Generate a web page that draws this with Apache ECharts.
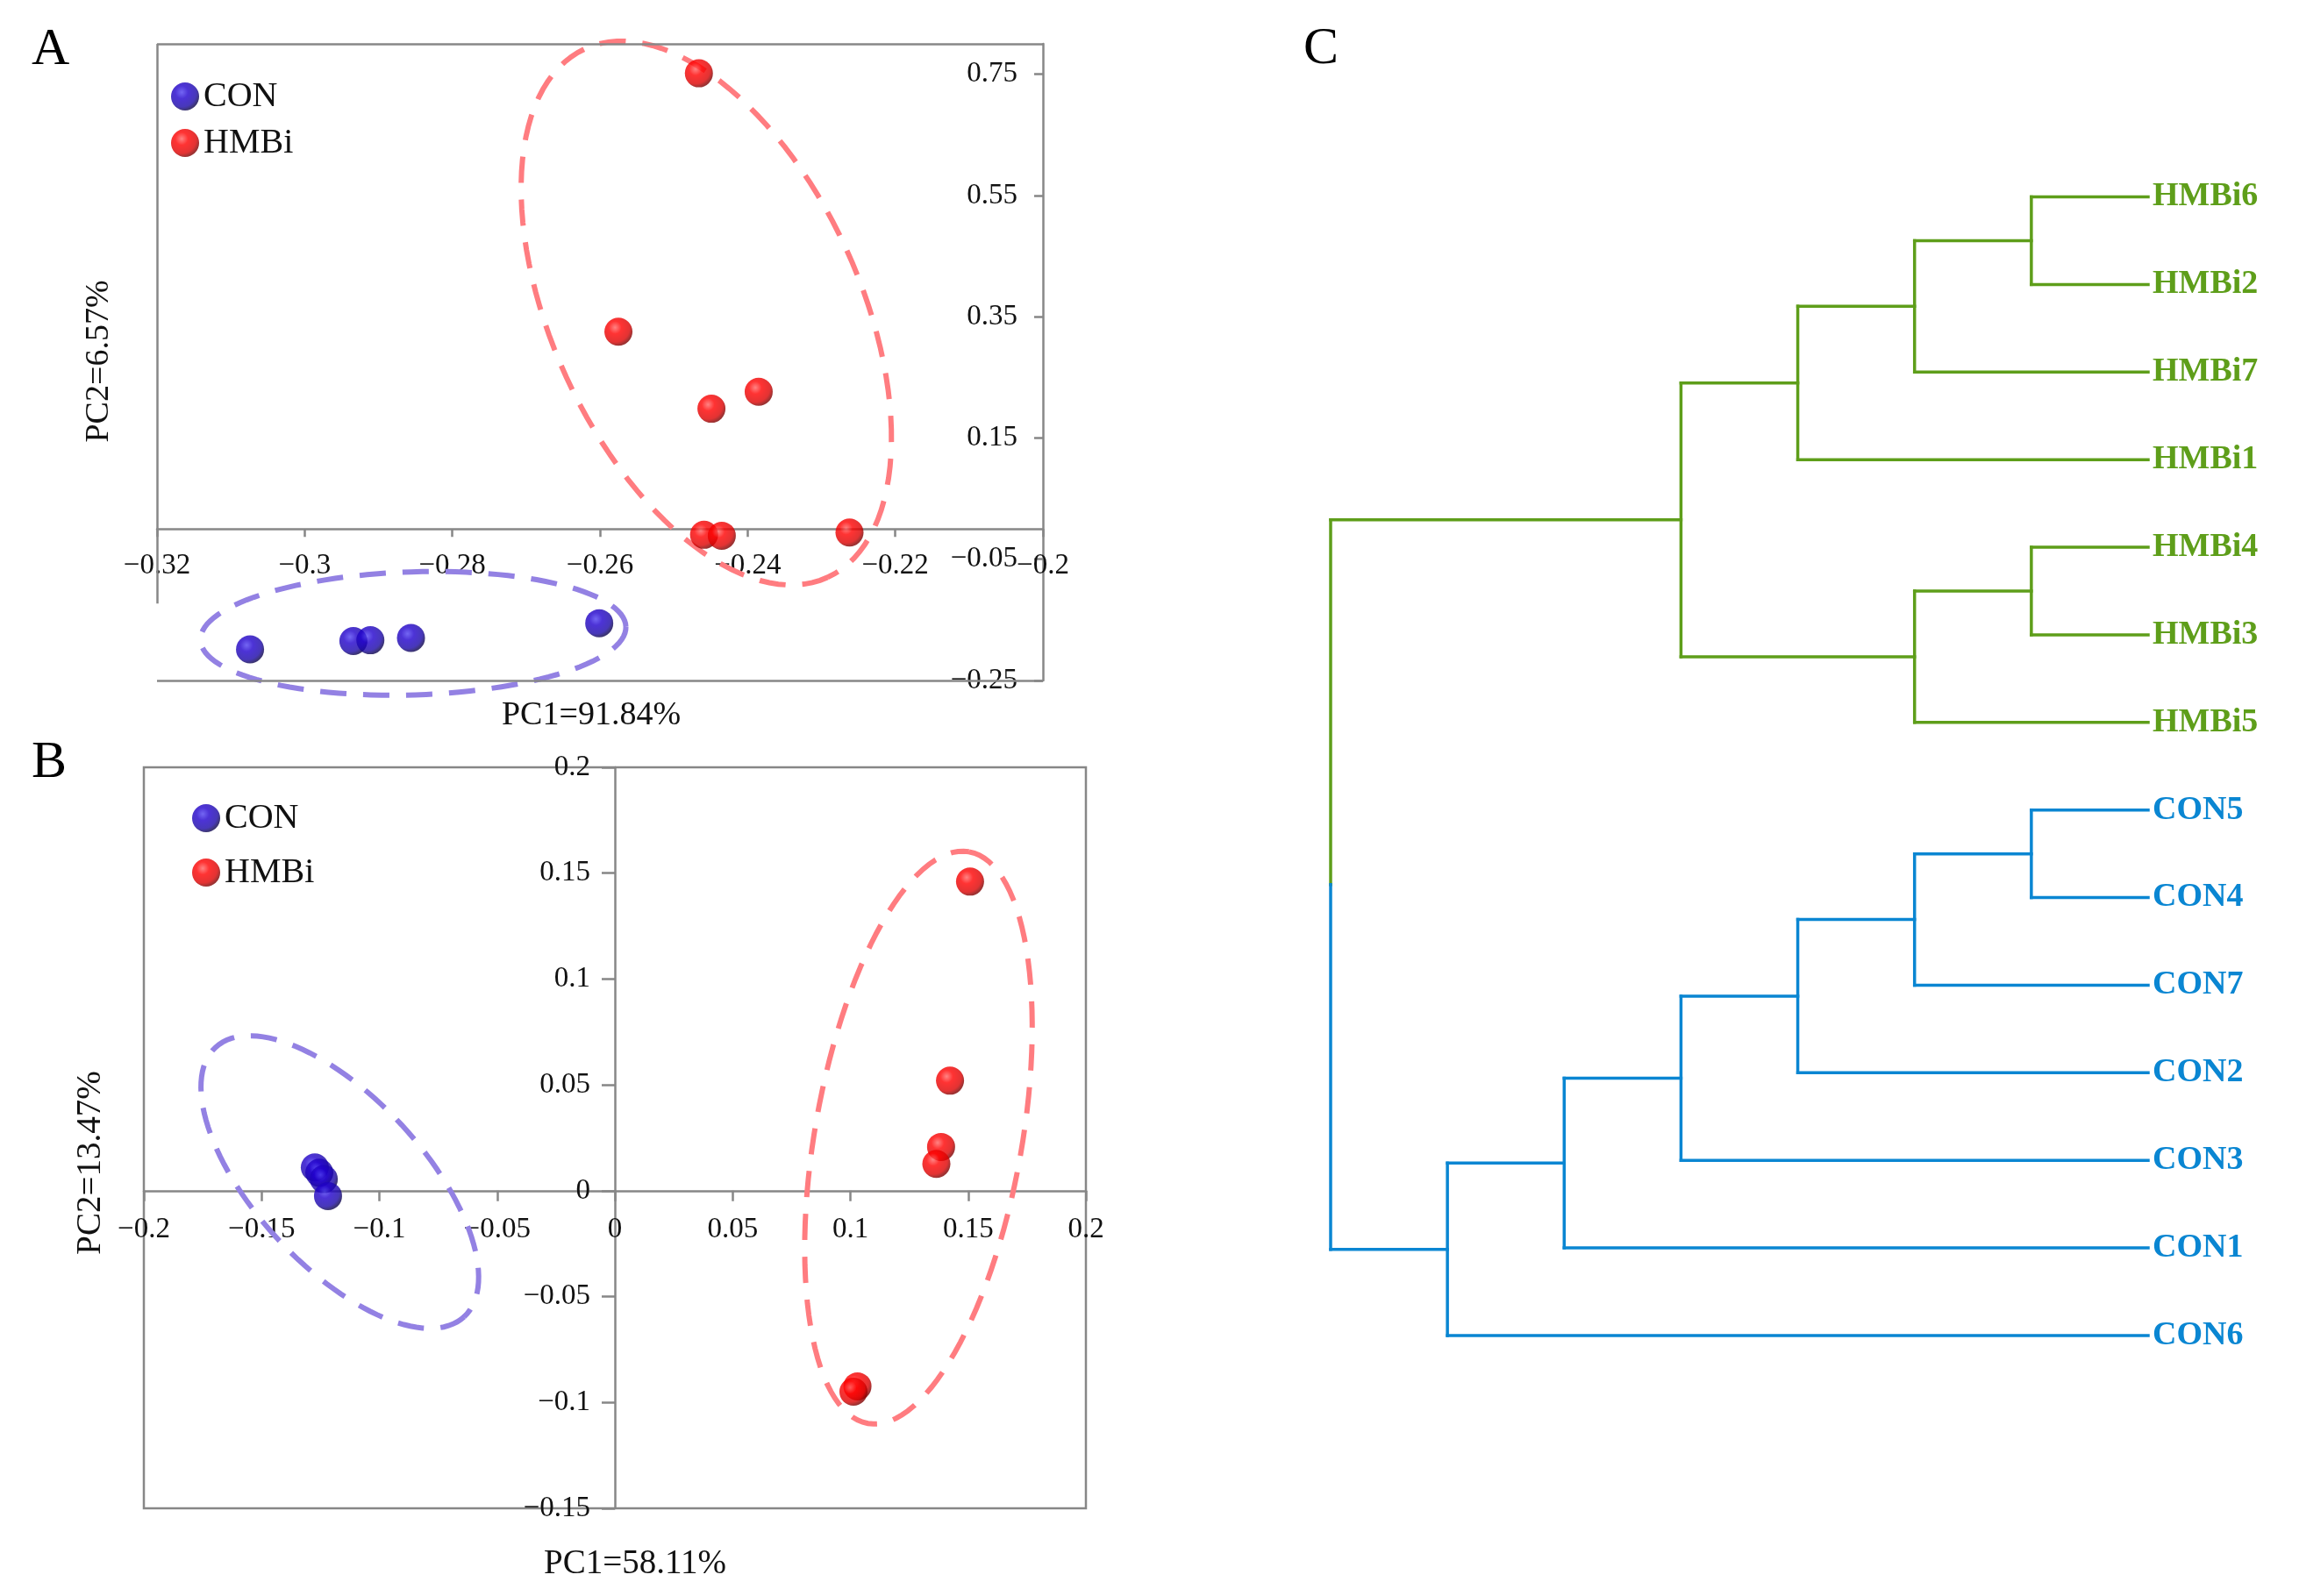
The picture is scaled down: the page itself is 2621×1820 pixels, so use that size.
<!DOCTYPE html>
<html>
<head>
<meta charset="utf-8">
<style>
html,body{margin:0;padding:0;background:#fff;}
#chart{width:2621px;height:1820px;}
</style>
<script src="https://cdn.jsdelivr.net/npm/echarts@6/dist/echarts.min.js"></script>
</head>
<body>
<div id="chart"></div>
<script>
// ---------- data ----------
const groups = ['CON', 'HMBi'];
// Panel A (PCoA) points [PC1, PC2]
const pcaA_CON  = [[-0.3074,-0.1987],[-0.2934,-0.1850],[-0.2911,-0.1836],[-0.2856,-0.1798],[-0.2601,-0.1555]];
const pcaA_HMBi = [[-0.2466,0.7514],[-0.2575,0.3252],[-0.2385,0.2261],[-0.2449,0.1982],[-0.2459,-0.0097],[-0.2435,-0.0112],[-0.2262,-0.0059]];
// Panel B (PCA) points
const pcaB_CON  = [[-0.1274,0.0110],[-0.1255,0.0085],[-0.1236,0.0055],[-0.1218,-0.0025]];
const pcaB_HMBi = [[0.1508,0.1460],[0.1423,0.0520],[0.1385,0.0207],[0.1365,0.0127],[0.1030,-0.0924],[0.1013,-0.0949]];
// Confidence ellipses: [centerX, centerY, axis1X, axis1Y, axis2X, axis2Y] in data units
const ellA_CON  = [-0.2853,-0.1723, 0.02881, 0.01106, 0.000264,-0.1014];
const ellA_HMBi = [-0.2456, 0.3560, 0.01642,-0.4359, -0.01896,-0.1056];
const ellB_CON  = [-0.1168, 0.0041, 0.05277,-0.06363,-0.02629,-0.02697];
const ellB_HMBi = [ 0.1289, 0.0251, 0.02145, 0.1350,  0.04328,-0.00849];
// Tick values
const ticksA_x = [-0.32,-0.3,-0.28,-0.26,-0.24,-0.22,-0.2];
const ticksA_y = [-0.25,-0.05,0.15,0.35,0.55,0.75];
const topA_y = 0.8;
const ticksB_x = [-0.2,-0.15,-0.1,-0.05,0,0.05,0.1,0.15,0.2];
const ticksB_y = [-0.15,-0.1,-0.05,0,0.05,0.1,0.15,0.2];
// Axis titles
const titlesA = ['PC1=91.84%','PC2=6.57%'];
const titlesB = ['PC1=58.11%','PC2=13.47%'];
// Panel C dendrogram
const leafNames = ['HMBi6','HMBi2','HMBi7','HMBi1','HMBi4','HMBi3','HMBi5','CON5','CON4','CON7','CON2','CON3','CON1','CON6'];
// merges: [childA, childB, height]; leaves are 0..13, new nodes 14..
const merges = [
  [0,1,1],[14,2,2],[15,3,3],
  [4,5,1],[17,6,2],
  [16,18,4],
  [7,8,1],[20,9,2],[21,10,3],[22,11,4],[23,12,5],[24,13,6],
  [19,25,7]
];

// ---------- layout / styles ----------
const FONT = "'Liberation Serif','Times New Roman',serif";
const GREEN = '#5E9E1A', BLUE = '#0A86D2';
const AXIS = '#878787';
const RED_E = '#FF7C80', BLUE_E = '#9381E3';
const redBall = {type:'radial',x:0.38,y:0.35,r:0.65,colorStops:[
  {offset:0,color:'#ff6464'},{offset:0.35,color:'#ff0000'},{offset:0.8,color:'#dc0000'},{offset:1,color:'#820000'}]};
const blueBall = {type:'radial',x:0.38,y:0.35,r:0.65,colorStops:[
  {offset:0,color:'#5040f0'},{offset:0.35,color:'#2000cc'},{offset:0.8,color:'#1a06a8'},{offset:1,color:'#0c0350'}]};

const gA = {left:179, top:50, width:1010, height:726};
const gB = {left:164, top:875, width:1074, height:845};
const gC = {left:1517, top:224.5, width:932, height:1298.5};

const fmt = v => String(+(+v).toFixed(4)).replace('-', '\u2212');
const span = t => ({min:t[0], max:t[t.length-1], interval:+(t[1]-t[0]).toFixed(4)});
// pixel distance from the low end of an axis to its zero value
const zeroOffset = (min, max, len) => len * (0 - min) / (max - min);

function ellipseRender(params, api) {
  const cx=api.value(0), cy=api.value(1), ax=api.value(2), ay=api.value(3), bx=api.value(4), by=api.value(5);
  const pts=[];
  const N=120;
  for (let i=0;i<=N;i++){
    const t=i/N*2*Math.PI;
    pts.push(api.coord([cx+ax*Math.cos(t)+bx*Math.sin(t), cy+ay*Math.cos(t)+by*Math.sin(t)]));
  }
  return {type:'polyline', shape:{points:pts}, silent:true,
    style:{stroke:api.visual('color'), lineWidth:6, fill:null, lineDash:[30,19]}};
}

// dendrogram geometry from merges
const nodeY = leafNames.map((_,i)=>i);
const nodeH = leafNames.map(()=>0);
const nodeC = leafNames.map(n=> n.startsWith('HMBi') ? GREEN : BLUE);
const segs = [];
merges.forEach(([a,b,h])=>{
  const ya=nodeY[a], yb=nodeY[b];
  if (nodeC[a]===nodeC[b]) {
    segs.push({value:[h,ya,h,yb], itemStyle:{color:nodeC[a]}});
  } else {
    const m=(ya+yb)/2;
    segs.push({value:[h,ya,h,m], itemStyle:{color:nodeC[a]}});
    segs.push({value:[h,m,h,yb], itemStyle:{color:nodeC[b]}});
  }
  segs.push({value:[h,ya,nodeH[a],ya], itemStyle:{color:nodeC[a]}});
  segs.push({value:[h,yb,nodeH[b],yb], itemStyle:{color:nodeC[b]}});
  nodeY.push((ya+yb)/2); nodeH.push(h);
  nodeC.push(nodeC[a]===nodeC[b]?nodeC[a]:'mixed');
});
function segRender(params, api){
  const p1=api.coord([api.value(0),api.value(1)]);
  const p2=api.coord([api.value(2),api.value(3)]);
  return {type:'line', shape:{x1:p1[0],y1:p1[1],x2:p2[0],y2:p2[1]}, silent:true,
    style:{stroke:api.visual('color'), lineWidth:3.5, lineCap:'square'}};
}

const axisLine = {lineStyle:{color:AXIS,width:2.5}};
const tickLabel = {color:'#111', fontSize:33, fontFamily:FONT, formatter:fmt};
const maxH = Math.max(...merges.map(m=>m[2]));

const offAx = zeroOffset(ticksA_y[0], topA_y, gA.height);
const offBx = zeroOffset(ticksB_y[0], ticksB_y[ticksB_y.length-1], gB.height);
const offBy = zeroOffset(ticksB_x[0], ticksB_x[ticksB_x.length-1], gB.width);

const legendText = {fontSize:40, fontFamily:FONT, color:'#111'};

const option = {
  backgroundColor:'#fff',
  animation:false,
  title:[
    {text:'A', left:36, top:27, padding:0, textStyle:{fontSize:60,fontWeight:'normal',fontFamily:FONT,color:'#000'}},
    {text:'B', left:36, top:840, padding:0, textStyle:{fontSize:60,fontWeight:'normal',fontFamily:FONT,color:'#000'}},
    {text:'C', left:1486, top:26, padding:0, textStyle:{fontSize:60,fontWeight:'normal',fontFamily:FONT,color:'#000'}}
  ],
  legend:[
    {data:groups, orient:'vertical', left:190, top:85, itemWidth:32, itemHeight:32, itemGap:13, icon:'circle',
     textStyle:legendText, selectedMode:false},
    {data:groups, orient:'vertical', left:214, top:908, itemWidth:32, itemHeight:32, itemGap:22, icon:'circle',
     textStyle:legendText, selectedMode:false}
  ],
  graphic:[
    {type:'text', x:674, y:816, style:{text:titlesA[0], font:'38px '+FONT, fill:'#111', textAlign:'center', textVerticalAlign:'middle'}},
    {type:'text', x:113, y:412, rotation:Math.PI/2, style:{text:titlesA[1], font:'38px '+FONT, fill:'#111', textAlign:'center', textVerticalAlign:'middle'}},
    {type:'text', x:724, y:1784, style:{text:titlesB[0], font:'39px '+FONT, fill:'#111', textAlign:'center', textVerticalAlign:'middle'}},
    {type:'text', x:104, y:1326, rotation:Math.PI/2, style:{text:titlesB[1], font:'39px '+FONT, fill:'#111', textAlign:'center', textVerticalAlign:'middle'}}
  ],
  grid:[
    Object.assign({show:false, outerBoundsMode:'none'}, gA),
    Object.assign({show:true, borderColor:AXIS, borderWidth:2.5, outerBoundsMode:'none'}, gB),
    Object.assign({show:false, outerBoundsMode:'none'}, gC)
  ],
  xAxis:[
    Object.assign({type:'value', gridIndex:0, position:'bottom', offset:-offAx, axisLine:Object.assign({onZero:false},axisLine),
      axisTick:{show:true,length:9,inside:false,lineStyle:{color:AXIS,width:2.5}},
      axisLabel:Object.assign({margin:26, showMinLabel:true, showMaxLabel:true},tickLabel), splitLine:{show:false}}, span(ticksA_x)),
    Object.assign({type:'value', gridIndex:1, position:'bottom', offset:-offBx, axisLine:Object.assign({onZero:false},axisLine),
      axisTick:{show:true,length:12,lineStyle:{color:AXIS,width:2.5}},
      axisLabel:Object.assign({margin:28, showMinLabel:true, showMaxLabel:true},tickLabel), splitLine:{show:false}}, span(ticksB_x)),
    {type:'value', gridIndex:2, min:0, max:maxH, inverse:true, show:false, splitLine:{show:false}}
  ],
  yAxis:[
    Object.assign({type:'value', gridIndex:0, position:'right', axisLine:Object.assign({onZero:false},axisLine),
      axisTick:{show:true,length:10,inside:true,lineStyle:{color:AXIS,width:2.5}},
      axisLabel:Object.assign({margin:29, inside:true, showMinLabel:true, showMaxLabel:false},tickLabel), splitLine:{show:false}},
      {min:ticksA_y[0], max:topA_y, interval:+(ticksA_y[1]-ticksA_y[0]).toFixed(4)}),
    Object.assign({type:'value', gridIndex:1, position:'left', offset:-offBy, axisLine:Object.assign({onZero:false},axisLine),
      axisTick:{show:true,length:15,lineStyle:{color:AXIS,width:2.5}},
      axisLabel:Object.assign({margin:28, showMinLabel:true, showMaxLabel:true},tickLabel), splitLine:{show:false}}, span(ticksB_y)),
    {type:'value', gridIndex:2, min:0, max:leafNames.length-1, interval:1, inverse:true, position:'right',
     axisLine:{show:false}, axisTick:{show:false}, splitLine:{show:false},
     axisLabel:{margin:5, formatter:v=>{const n=leafNames[v]; return n? (n.startsWith('HMBi')?'{g|'+n+'}':'{b|'+n+'}') : '';},
       rich:{g:{color:GREEN,fontWeight:'bold',fontSize:38,fontFamily:FONT}, b:{color:BLUE,fontWeight:'bold',fontSize:38,fontFamily:FONT}}}}
  ],
  series:[
    {type:'custom', name:'ellA', xAxisIndex:0, yAxisIndex:0, z:1, renderItem:ellipseRender, encode:{x:0,y:1},
     data:[{value:ellA_HMBi,itemStyle:{color:RED_E}},{value:ellA_CON,itemStyle:{color:BLUE_E}}]},
    {type:'custom', name:'ellB', xAxisIndex:1, yAxisIndex:1, z:1, renderItem:ellipseRender, encode:{x:0,y:1},
     data:[{value:ellB_HMBi,itemStyle:{color:RED_E}},{value:ellB_CON,itemStyle:{color:BLUE_E}}]},
    {type:'scatter', name:'CON', xAxisIndex:0, yAxisIndex:0, z:3, symbolSize:32, itemStyle:{color:blueBall}, data:pcaA_CON,
     markLine:{silent:true, symbol:'none', label:{show:false}, lineStyle:{color:AXIS,width:2.5,type:'solid'},
       data:[
         [{coord:[ticksA_x[0],-0.123]},{coord:[ticksA_x[0],topA_y]}],
         [{coord:[ticksA_x[0],topA_y]},{coord:[ticksA_x[ticksA_x.length-1],topA_y]}],
         [{coord:[ticksA_x[0],ticksA_y[0]]},{coord:[ticksA_x[ticksA_x.length-1],ticksA_y[0]]}]
       ]}},
    {type:'scatter', name:'HMBi', xAxisIndex:0, yAxisIndex:0, z:3, symbolSize:32, itemStyle:{color:redBall}, data:pcaA_HMBi},
    {type:'scatter', name:'CON', xAxisIndex:1, yAxisIndex:1, z:3, symbolSize:32, itemStyle:{color:blueBall}, data:pcaB_CON},
    {type:'scatter', name:'HMBi', xAxisIndex:1, yAxisIndex:1, z:3, symbolSize:32, itemStyle:{color:redBall}, data:pcaB_HMBi},
    {type:'custom', name:'dendro', xAxisIndex:2, yAxisIndex:2, renderItem:segRender, encode:{x:[0,2],y:[1,3]}, data:segs}
  ]
};
const chart = echarts.init(document.getElementById('chart'));
chart.setOption(option);
</script>
</body>
</html>
